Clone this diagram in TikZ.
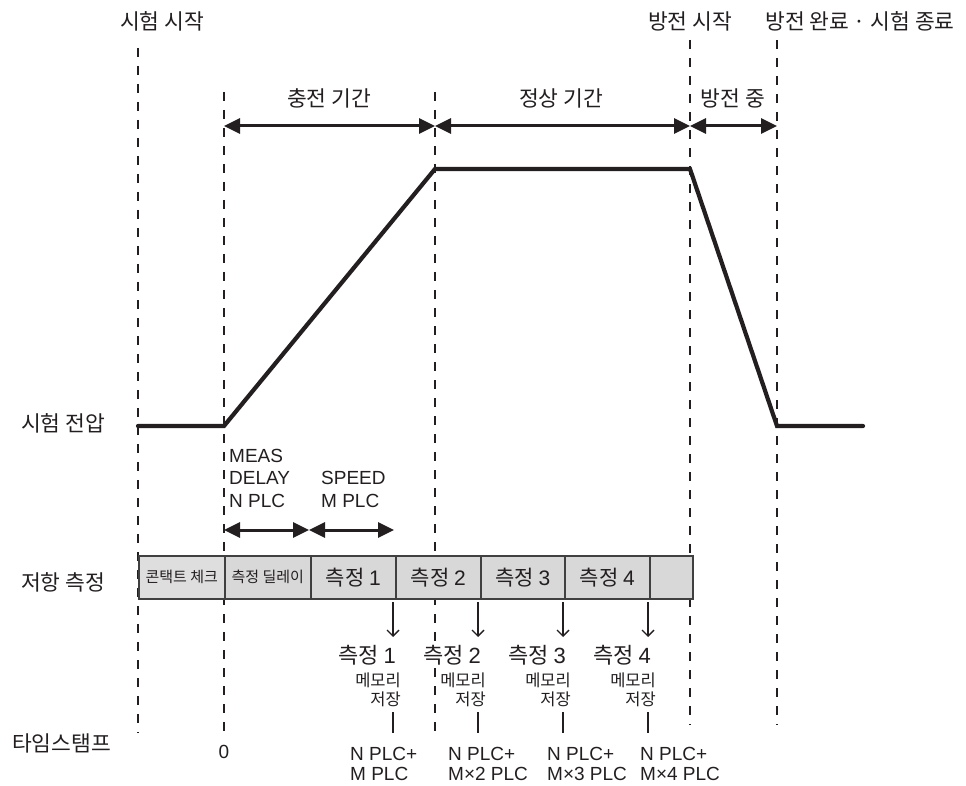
\documentclass[tikz,border=0pt]{standalone}
\usepackage{fontspec}
\setmainfont{Noto Sans CJK KR}
\newfontfamily\lat{Liberation Sans}
\usetikzlibrary{arrows.meta}
\definecolor{ink}{HTML}{231F20}
\definecolor{cellfill}{HTML}{D8D8D8}
\definecolor{cellfillB}{HTML}{DEDEDE}
\definecolor{divred}{HTML}{8B1A1A}
\begin{document}
\begin{tikzpicture}[x=1pt,y=-1pt,
  every node/.style={text=ink, inner sep=0pt},
  guide/.style={draw=ink, line width=1.4pt, dash pattern=on 9pt off 9pt},
  volt/.style={draw=ink, line width=4.2pt, line cap=round},
  span/.style={draw=ink, line width=3pt, {Triangle[length=16pt,width=15pt]}-{Triangle[length=16pt,width=15pt]}},
  down/.style={draw=ink, line width=1.4pt, -{Straight Barb[length=6pt,width=12pt,line width=1.4pt]}},
  tick/.style={draw=ink, line width=1.4pt},
  cell/.style={draw=black!75, fill=cellfill, line width=1.6pt, minimum height=43pt, anchor=north west},
  kr/.style={font=\fontsize{21.5}{25}\selectfont},
  krlow/.style={font=\fontsize{22}{25}\selectfont},
  krbar/.style={font=\fontsize{21}{24}\selectfont},
  krsm/.style={font=\fontsize{15}{18}\selectfont},
  krmem/.style={font=\fontsize{16.5}{19}\selectfont},
  lt/.style={font=\lat\fontsize{19}{20}\selectfont},
]
\useasboundingbox (0,0) rectangle (966,786);

% dashed guides
\coordinate (g0t) at (138,48);  \coordinate (g0b) at (138,733);
\coordinate (g1t) at (224,92);  \coordinate (g1b) at (224,735);
\coordinate (g2t) at (435,92);  \coordinate (g2b) at (435,732);
\coordinate (g3t) at (690,40);  \coordinate (g3b) at (690,725);
\coordinate (g4t) at (777,40);  \coordinate (g4b) at (777,725);
\foreach \i in {0,...,4} \draw[guide] (g\i t) -- (g\i b);

% top labels
\node[kr] (tStart) at (162,21) {시험 시작};
\node[kr] (dStart) at (690,21) {방전 시작};
\node[kr] (tEnd) at (860,21) {방전 완료 · 시험 종료};
\node[kr, fill=white, inner sep=1pt] (charge) at (329,98) {충전 기간};
\node[kr, fill=white, inner sep=1pt] (steady) at (561,98) {정상 기간};
\node[kr, fill=white, inner sep=1pt] (disch) at (733,98) {방전 중};

% period arrows
\coordinate (p0) at (224,126); \coordinate (p1) at (435,126);
\coordinate (p2) at (690,126); \coordinate (p3) at (777,126);
\draw[span] (p0) -- (p1);
\draw[span] (p1) -- (p2);
\draw[span] (p2) -- (p3);

% voltage curve
\coordinate (v0) at (138,426); \coordinate (v1) at (224,426);
\coordinate (v2) at (435,169); \coordinate (v3) at (690,169);
\coordinate (v4) at (777,426); \coordinate (v5) at (863,426);
\draw[volt] (v0) -- (v1) -- (v2) -- (v3) -- (v4) -- (v5);

% left labels
\node[kr, anchor=west] (lVolt) at (21,423) {시험 전압};
\node[kr, anchor=west] (lRes) at (21,582) {저항 측정};
\node[kr, anchor=west] (lTime) at (12,743) {타임스탬프};

% MEAS DELAY / SPEED
\node[lt, anchor=base west] (meas) at (229,462) {MEAS};
\node[lt, anchor=base west] (delay) at (229,484) {DELAY};
\node[lt, anchor=base west] (nplc) at (229,507) {N PLC};
\node[lt, anchor=base west] (speed) at (321,484) {SPEED};
\node[lt, anchor=base west] (mplc) at (321,507) {M PLC};
\coordinate (m0) at (224,530); \coordinate (m1) at (309,530); \coordinate (m2) at (394,530);
\draw[span] (m0) -- (m1);
\draw[span] (m1) -- (m2);

% measurement bar
\node[cell, fill=cellfillB, minimum width=86pt] (c0) at (138,555) {};
\node[cell, minimum width=86pt] (c1) at (224,555) {};
\node[cell, minimum width=85pt] (c2) at (310,555) {};
\node[cell, minimum width=85pt] (c3) at (395,555) {};
\node[cell, minimum width=84pt] (c4) at (480,555) {};
\node[cell, minimum width=85pt] (c5) at (564,555) {};
\node[cell, minimum width=43pt] (c6) at (649,555) {};
\draw[divred, line width=1.4pt] (c1.north east) -- (c1.south east);
\node[krsm] (t0) at (c0.center) {콘택트 체크};
\node[krsm] (t1) at (c1.center) {측정 딜레이};
\node[krbar] (t2) at (c2.center) {측정 {\lat 1}};
\node[krbar] (t3) at (c3.center) {측정 {\lat 2}};
\node[krbar] (t4) at (c4.center) {측정 {\lat 3}};
\node[krbar] (t5) at (c5.center) {측정 {\lat 4}};

% memory columns
\foreach \n/\a/\lx/\tx in {1/393/350/{M PLC}, 2/478/448/{M×2 PLC}, 3/563/547/{M×3 PLC}, 4/648/640/{M×4 PLC}} {
  \coordinate (a\n t) at (\a,602);
  \coordinate (a\n b) at (\a,637);
  \draw[down] (a\n t) -- (a\n b);
  \node[krlow, anchor=east, fill=white, inner sep=1pt] (mm\n) at (\a+4,655) {측정 {\lat\n}};
  \node[krmem, anchor=east, fill=white, inner sep=1pt] (mem\n) at (\a+9,680) {메모리};
  \node[krmem, anchor=east, fill=white, inner sep=1pt] (sav\n) at (\a+9,699) {저장};
  \coordinate (s\n t) at (\a,712);
  \coordinate (s\n b) at (\a,733);
  \draw[tick] (s\n t) -- (s\n b);
  \node[lt, anchor=base west] (ts\n a) at (\lx,760) {N PLC+};
  \node[lt, anchor=base west] (ts\n b) at (\lx,780) {\tx};
}
\node[lt] (zero) at (224,752) {0};
\end{tikzpicture}
\end{document}
